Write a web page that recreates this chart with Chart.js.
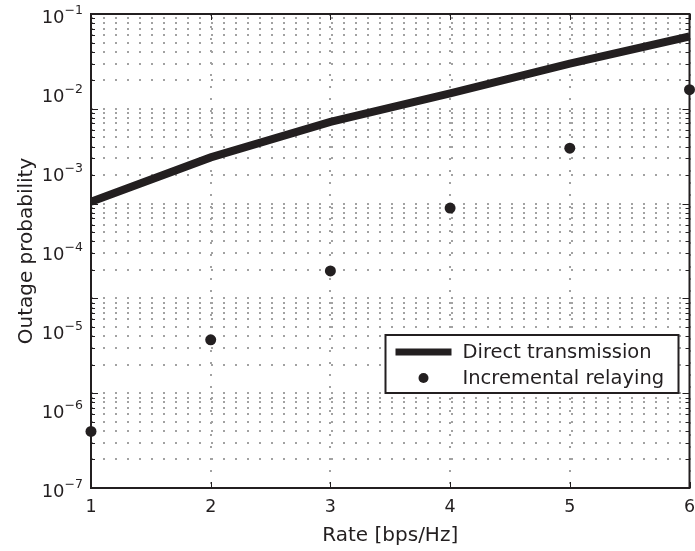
<!DOCTYPE html>
<html>
<head>
<meta charset="utf-8">
<script src="https://cdn.jsdelivr.net/npm/chart.js@4.4.0/dist/chart.umd.min.js"></script>
<style>
  html, body { margin: 0; padding: 0; background: #fff; }
</style>
</head>
<body>
<canvas id="chart" width="695" height="551"></canvas>
<script>
const rates = [1, 2, 3, 4, 5, 6]
const directTransmission = [4.2e-4, 1.53e-3, 4.3e-3, 9.9e-3, 2.35e-2, 5.2e-2]
const incrementalRelaying = [5.2e-7, 7.5e-6, 5.6e-5, 3.5e-4, 2.0e-3, 1.1e-2]
const yTickExponents = [-7, -6, -5, -4, -3, -2, -1]
// the dotted grid in the figure only spans 1e-7 .. 1e-2, not the labelled range
const gridExponents = [-7, -6, -5, -4, -3]

const ink = '#231f20'
const gridGrey = '#a2a2a2'
const fontFamily = 'DejaVu Sans'

const gridValues = []
gridExponents.forEach((e) => {
  for (let m = 1; m < 10; m++) gridValues.push(m * Math.pow(10, e))
})
gridValues.push(Math.pow(10, gridExponents[gridExponents.length - 1] + 1))

const isDecade = (v) => {
  const l = Math.log10(v)
  return Math.abs(l - Math.round(l)) < 1e-9
}

const axesDecor = {
  id: 'axesDecor',
  beforeDatasetsDraw(chart) {
    const { ctx, chartArea: a, scales } = chart
    ctx.save()
    ctx.strokeStyle = ink
    ctx.lineWidth = 1

    // inward tick marks on all four sides
    ctx.beginPath()
    scales.yGrid.ticks.forEach((t) => {
      const py = Math.round(scales.yGrid.getPixelForValue(t.value)) + 0.5
      const len = isDecade(t.value) ? 7 : 4
      ctx.moveTo(a.left, py)
      ctx.lineTo(a.left + len, py)
      ctx.moveTo(a.right, py)
      ctx.lineTo(a.right - len, py)
    })
    scales.x.ticks.forEach((t) => {
      const px = Math.round(scales.x.getPixelForValue(t.value)) + 0.5
      ctx.moveTo(px, a.top)
      ctx.lineTo(px, a.top + 6)
      ctx.moveTo(px, a.bottom)
      ctx.lineTo(px, a.bottom - 6)
    })
    ctx.stroke()

    ctx.lineWidth = 2
    ctx.strokeRect(a.left, a.top, a.right - a.left, a.bottom - a.top)

    // y labels as 10 with a raised exponent
    ctx.fillStyle = ink
    ctx.textBaseline = 'middle'
    ctx.textAlign = 'right'
    yTickExponents.forEach((e) => {
      const py = scales.y.getPixelForValue(Math.pow(10, e))
      const sup = '\u2212' + Math.abs(e)
      const right = a.left - 8
      ctx.font = `12.5px "${fontFamily}"`
      const w = ctx.measureText(sup).width
      ctx.fillText(sup, right, py - 3)
      ctx.font = `18px "${fontFamily}"`
      ctx.fillText('10', right - w, py + 4)
    })
    ctx.restore()
  },
  afterDraw(chart) {
    const { ctx, chartArea: a } = chart
    const sets = chart.data.datasets
    const left = a.right - 304
    const top = a.bottom - 153
    ctx.save()
    ctx.fillStyle = '#fff'
    ctx.fillRect(left, top, 293, 58)
    ctx.strokeStyle = ink
    ctx.lineWidth = 2
    ctx.strokeRect(left, top, 293, 58)

    const row1 = top + 17
    const row2 = top + 43
    ctx.lineWidth = 7
    ctx.beginPath()
    ctx.moveTo(left + 10, row1)
    ctx.lineTo(left + 66, row1)
    ctx.stroke()

    ctx.fillStyle = ink
    ctx.beginPath()
    ctx.arc(left + 38, row2, 5, 0, Math.PI * 2)
    ctx.fill()

    ctx.font = `19.5px "${fontFamily}"`
    ctx.textAlign = 'left'
    ctx.textBaseline = 'middle'
    ctx.fillText(sets[0].label, left + 77, row1 + 1)
    ctx.fillText(sets[1].label, left + 77, row2 + 1)
    ctx.restore()
  },
}

const config = {
  type: 'line',
  data: {
    datasets: [
      {
        label: 'Direct transmission',
        data: rates.map((r, i) => ({ x: r, y: directTransmission[i] })),
        borderColor: ink,
        borderWidth: 8,
        borderCapStyle: 'butt',
        pointRadius: 0,
        tension: 0,
        fill: false,
        yAxisID: 'y',
      },
      {
        type: 'scatter',
        label: 'Incremental relaying',
        data: rates.map((r, i) => ({ x: r, y: incrementalRelaying[i] })),
        showLine: false,
        pointStyle: 'circle',
        pointRadius: 5.5,
        pointHoverRadius: 5.5,
        backgroundColor: ink,
        borderWidth: 0,
        clip: false,
        yAxisID: 'y',
      },
    ],
  },
  options: {
    responsive: false,
    animation: false,
    events: [],
    devicePixelRatio: 1,
    layout: { padding: { top: 14, left: 0, right: 0, bottom: 0 } },
    scales: {
      x: {
        type: 'linear',
        min: 1,
        max: 6,
        ticks: {
          stepSize: 1,
          padding: 9,
          color: ink,
          font: { family: fontFamily, size: 17.5 },
        },
        grid: { color: gridGrey, lineWidth: 2, drawTicks: false },
        border: { display: false, dash: [2, 10] },
        title: {
          display: true,
          text: 'Rate [bps/Hz]',
          color: ink,
          font: { family: fontFamily, size: 20 },
          padding: { top: 0, bottom: 3 },
        },
        afterFit: (s) => {
          s.height = 63
          s.paddingLeft = 0
          s.paddingRight = 0
        },
      },
      y: {
        type: 'logarithmic',
        position: 'left',
        min: 1e-7,
        max: 1e-1,
        ticks: { display: false },
        grid: { display: false },
        border: { display: false },
        title: {
          display: true,
          text: 'Outage probability',
          color: ink,
          font: { family: fontFamily, size: 20 },
          padding: { top: 15, bottom: 0 },
        },
        afterFit: (s) => {
          s.width = 91
        },
      },
      yGrid: {
        type: 'logarithmic',
        position: 'right',
        min: Math.pow(10, gridExponents[0]),
        max: Math.pow(10, gridExponents[gridExponents.length - 1] + 1),
        ticks: { display: false, autoSkip: false },
        grid: { color: gridGrey, lineWidth: 2, drawTicks: false },
        border: { display: false, dash: [2, 10] },
        afterBuildTicks: (s) => {
          s.ticks = gridValues.map((v) => ({ value: v, major: isDecade(v) }))
        },
        afterFit: (s) => {
          s.width = 2
        },
      },
    },
    plugins: {
      legend: { display: false },
      tooltip: { enabled: false },
    },
  },
  plugins: [axesDecor],
}

new Chart(document.getElementById('chart'), config)
</script>
</body>
</html>
